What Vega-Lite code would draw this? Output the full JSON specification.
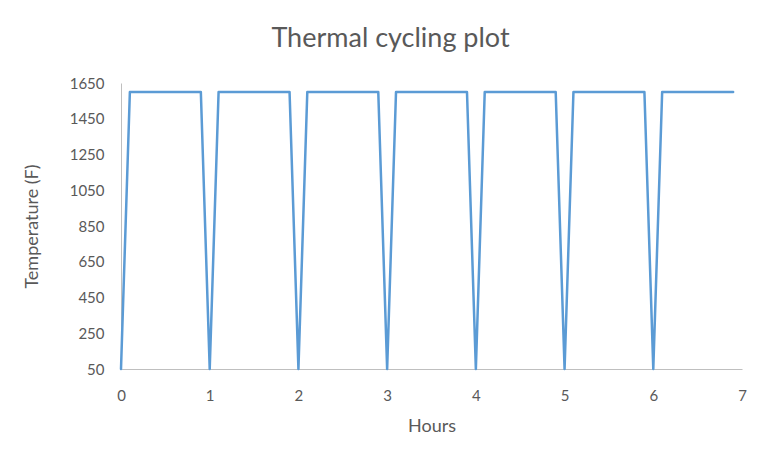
{
  "$schema": "https://vega.github.io/schema/vega-lite/v6.json",
  "width": 621,
  "height": 286,
  "autosize": "none",
  "padding": {"left": 121, "top": 83, "right": 19, "bottom": 93},
  "background": "white",
  "title": {
    "text": "Thermal cycling plot",
    "font": "Lato",
    "fontSize": 27,
    "fontWeight": "normal",
    "color": "#595959",
    "anchor": "middle",
    "dx": -41,
    "offset": 23
  },
  "config": {
    "view": {"stroke": null},
    "axis": {
      "labelFont": "Lato",
      "titleFont": "Lato",
      "labelFontSize": 15,
      "titleFontSize": 18,
      "labelColor": "#595959",
      "titleColor": "#595959",
      "titleFontWeight": "normal",
      "domainColor": "#bfbfbf",
      "domainWidth": 1,
      "ticks": false,
      "grid": false
    }
  },
  "data": {
    "values": [
      {"hours": 0, "temp": 50},
      {"hours": 0.1, "temp": 1600},
      {"hours": 0.9, "temp": 1600},
      {"hours": 1, "temp": 50},
      {"hours": 1.1, "temp": 1600},
      {"hours": 1.9, "temp": 1600},
      {"hours": 2, "temp": 50},
      {"hours": 2.1, "temp": 1600},
      {"hours": 2.9, "temp": 1600},
      {"hours": 3, "temp": 50},
      {"hours": 3.1, "temp": 1600},
      {"hours": 3.9, "temp": 1600},
      {"hours": 4, "temp": 50},
      {"hours": 4.1, "temp": 1600},
      {"hours": 4.9, "temp": 1600},
      {"hours": 5, "temp": 50},
      {"hours": 5.1, "temp": 1600},
      {"hours": 5.9, "temp": 1600},
      {"hours": 6, "temp": 50},
      {"hours": 6.1, "temp": 1600},
      {"hours": 6.9, "temp": 1600}
    ]
  },
  "mark": {"type": "line", "color": "#5b9bd5", "strokeWidth": 2.5, "strokeJoin": "round", "strokeCap": "round"},
  "encoding": {
    "x": {
      "field": "hours",
      "type": "quantitative",
      "scale": {"domain": [0, 7], "nice": false, "zero": false},
      "axis": {"title": "Hours", "format": "d", "values": [0, 1, 2, 3, 4, 5, 6, 7], "labelPadding": 19, "titlePadding": 14, "labelFlush": false}
    },
    "y": {
      "field": "temp",
      "type": "quantitative",
      "scale": {"domain": [50, 1650], "nice": false, "zero": false},
      "axis": {"title": "Temperature (F)", "format": "d", "values": [50, 250, 450, 650, 850, 1050, 1250, 1450, 1650], "labelPadding": 17, "titlePadding": 28, "labelFlush": false}
    }
  }
}
